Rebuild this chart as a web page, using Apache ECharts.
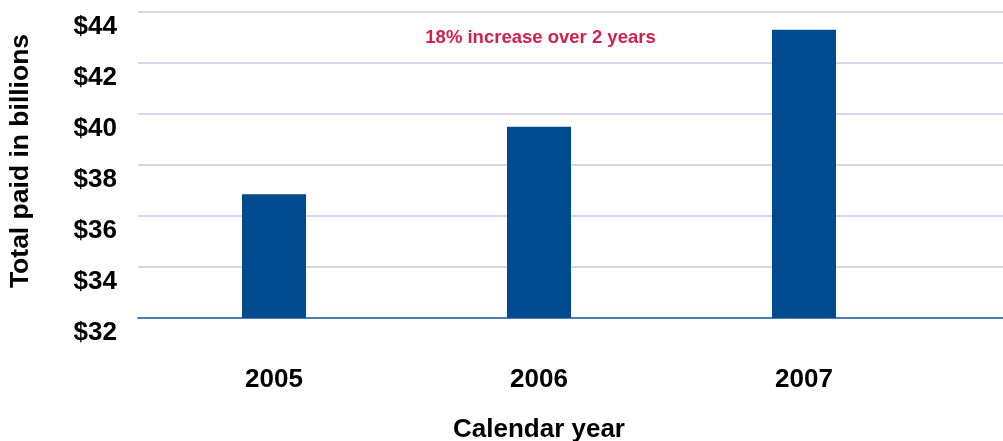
<!DOCTYPE html>
<html>
<head>
<meta charset="utf-8">
<script src="https://cdn.jsdelivr.net/npm/echarts@6/dist/echarts.min.js"></script>
<style>
  html, body { margin: 0; padding: 0; background: #ffffff; }
  #chart { width: 1003px; height: 441px; }
</style>
</head>
<body>
<div id="chart"></div>
<script>
// Total paid per calendar year, in billions of dollars
const years = ['2005', '2006', '2007'];
const totalPaid = [36.85, 39.5, 43.3];
const yMin = 32;
const yMax = 44;
const yStep = 2;
const note = '18% increase over 2 years';

const font = '"Liberation Sans", Arial, sans-serif';
const chart = echarts.init(document.getElementById('chart'), null, { renderer: 'canvas' });

chart.setOption({
  animation: false,
  backgroundColor: '#ffffff',
  grid: [
    // full-width grid carrying the gridlines, value labels and baseline
    { left: 138, right: 0, top: 12, bottom: 123, outerBoundsMode: 'none', containLabel: false },
    // narrower grid holding the year categories and bars
    { left: 141.5, right: 66.5, top: 12, bottom: 123, outerBoundsMode: 'none', containLabel: false }
  ],
  xAxis: [
    {
      gridIndex: 0, type: 'value', min: 0, max: 1,
      axisLine: { show: true, lineStyle: { color: '#4d7db6', width: 2 } },
      axisTick: { show: false }, axisLabel: { show: false }, splitLine: { show: false }
    },
    {
      gridIndex: 1, type: 'category', data: years,
      axisLine: { show: false }, axisTick: { show: false },
      axisLabel: { margin: 49, fontFamily: font, fontSize: 26, fontWeight: 'bold', color: '#000000' },
      name: 'Calendar year', nameLocation: 'middle', nameGap: 99,
      nameTextStyle: { fontFamily: font, fontSize: 26, fontWeight: 'bold', color: '#000000' }
    }
  ],
  yAxis: [
    {
      gridIndex: 0, type: 'value', min: yMin, max: yMax, interval: yStep,
      axisLine: { show: false }, axisTick: { show: false },
      axisLabel: {
        margin: 21, verticalAlign: 'top', padding: [2, 0, 0, 0],
        fontFamily: font, fontSize: 26, fontWeight: 'bold', color: '#000000',
        formatter: v => '$' + v
      },
      splitLine: { show: true, lineStyle: { color: '#d3d7ea', width: 2 } },
      name: 'Total paid in billions', nameLocation: 'middle', nameGap: 104, nameRotate: 90,
      nameTextStyle: { fontFamily: font, fontSize: 26.5, fontWeight: 'bold', color: '#000000', padding: [0, 0, 0, 8] }
    },
    {
      gridIndex: 1, type: 'value', min: yMin, max: yMax, interval: yStep, show: false
    }
  ],
  graphic: [
    {
      type: 'text', x: 540.5, y: 38,
      style: {
        text: note, fontFamily: font, fontSize: 18.5, fontWeight: 'bold', fill: '#d2204d',
        align: 'center', verticalAlign: 'middle'
      }
    }
  ],
  series: [
    {
      type: 'bar', xAxisIndex: 1, yAxisIndex: 1,
      data: totalPaid, barWidth: 64,
      itemStyle: { color: '#004a8f' }
    }
  ]
});
</script>
</body>
</html>
